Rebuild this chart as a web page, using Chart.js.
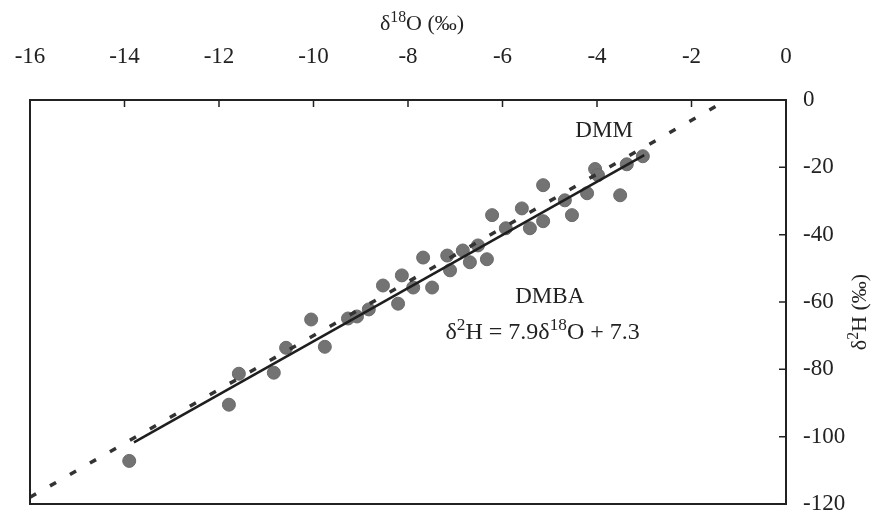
<!DOCTYPE html>
<html lang="en">
<head>
<meta charset="UTF-8">
<title>δ18O vs δ2H</title>
<script src="https://cdn.jsdelivr.net/npm/chart.js"></script>
<style>
  html, body { margin: 0; padding: 0; background: #fff; }
  #wrap { width: 880px; height: 517px; }
</style>
</head>
<body>
<div id="wrap"><canvas id="isoChart" width="880" height="517"></canvas></div>
<script>
// samples (δ18O, δ2H)
const o18 = [-13.9, -11.79, -11.58, -10.84, -10.58, -10.05, -9.76, -9.27, -9.08, -8.83,
             -8.53, -8.21, -8.13, -7.89, -7.68, -7.49, -7.17, -7.11, -6.84, -6.69,
             -6.52, -6.33, -6.22, -5.93, -5.59, -5.42, -5.14, -5.14, -4.68, -4.53,
             -4.21, -4.04, -3.98, -3.51, -3.37, -3.03];
const h2  = [-107.2, -90.5, -81.3, -81.0, -73.6, -65.2, -73.3, -64.9, -64.3, -62.2,
             -55.1, -60.5, -52.1, -55.7, -46.8, -55.7, -46.2, -50.6, -44.7, -48.2,
             -43.2, -47.3, -34.2, -38.1, -32.2, -38.1, -25.3, -36.0, -29.8, -34.2,
             -27.7, -20.5, -22.3, -28.3, -19.1, -16.7];

// DMM line (dotted) and DMBA regression (solid), end points
const dmmX = [-16, -1.25];
const dmmY = [-118, 0];
const dmbaX = [-13.8, -3.0];
const dmbaY = [-101.7, -16.4];

const xMin = -16, xMax = 0, xStep = 2;
const yMin = -120, yMax = 0, yStep = 20;

const serif = '"Liberation Serif", "DejaVu Serif", serif';
const ink = '#222';

function pairs(xs, ys) {
    return xs.map((x, i) => ({ x: x, y: ys[i] }));
}

// draw text with superscript runs, centred on (cx, cy)
function drawRuns(ctx, runs, cx, cy, size) {
    const supScale = 0.72;
    let total = 0;
    runs.forEach(r => {
        ctx.font = (r[1] ? size * supScale : size) + 'px ' + serif;
        total += ctx.measureText(r[0]).width;
    });
    let x = cx - total / 2;
    ctx.textAlign = 'left';
    ctx.textBaseline = 'middle';
    runs.forEach(r => {
        const s = r[1] ? size * supScale : size;
        ctx.font = s + 'px ' + serif;
        ctx.fillText(r[0], x, r[1] ? cy - size * 0.3 : cy);
        x += ctx.measureText(r[0]).width;
    });
}

const framePlugin = {
    id: 'frame',
    afterDraw(chart) {
        const ctx = chart.ctx;
        const a = chart.chartArea;
        const xs = chart.scales.x, ys = chart.scales.y;
        ctx.save();
        ctx.strokeStyle = ink;
        ctx.lineWidth = 2;
        ctx.strokeRect(a.left, a.top, a.right - a.left, a.bottom - a.top);

        // inward tick marks
        ctx.lineWidth = 1.5;
        ctx.beginPath();
        xs.ticks.forEach(t => {
            const p = xs.getPixelForValue(t.value);
            ctx.moveTo(p, a.top);
            ctx.lineTo(p, a.top + 7);
        });
        ys.ticks.forEach(t => {
            const p = ys.getPixelForValue(t.value);
            ctx.moveTo(a.right, p);
            ctx.lineTo(a.right - 7, p);
        });
        ctx.stroke();

        ctx.fillStyle = ink;
        // axis titles
        drawRuns(ctx, [['δ', 0], ['18', 1], ['O (‰)', 0]], 422, 24, 22);
        ctx.save();
        ctx.translate(860, 312);
        ctx.rotate(-Math.PI / 2);
        drawRuns(ctx, [['δ', 0], ['2', 1], ['H (‰)', 0]], 0, 0, 22);
        ctx.restore();

        // labels inside the plot
        drawRuns(ctx, [['DMM', 0]], xs.getPixelForValue(-3.85), ys.getPixelForValue(-9.3), 23);
        drawRuns(ctx, [['DMBA', 0]], xs.getPixelForValue(-5.0), ys.getPixelForValue(-58.5), 23);
        drawRuns(ctx, [['δ', 0], ['2', 1], ['H = 7.9δ', 0], ['18', 1], ['O + 7.3', 0]],
                 xs.getPixelForValue(-5.15), ys.getPixelForValue(-69), 24);
        ctx.restore();
    }
};

const ctx = document.getElementById('isoChart').getContext('2d');

new Chart(ctx, {
    type: 'scatter',
    data: {
        datasets: [
            {
                label: 'DMM',
                type: 'line',
                data: pairs(dmmX, dmmY),
                borderColor: '#333',
                borderWidth: 3.5,
                borderDash: [7, 16],
                borderCapStyle: 'butt',
                pointRadius: 0,
                fill: false,
                order: 0
            },
            {
                label: 'DMBA fit',
                type: 'line',
                data: pairs(dmbaX, dmbaY),
                borderColor: '#1e1e1e',
                borderWidth: 2.5,
                pointRadius: 0,
                fill: false,
                order: 0
            },
            {
                label: 'Samples',
                data: pairs(o18, h2),
                backgroundColor: '#737373',
                borderColor: '#6a6a6a',
                borderWidth: 1,
                pointRadius: 6.5,
                order: 1
            }
        ]
    },
    options: {
        responsive: false,
        devicePixelRatio: 1,
        animation: false,
        layout: { padding: { left: 30, right: 0, top: 0, bottom: 13 } },
        plugins: {
            legend: { display: false },
            tooltip: { enabled: false }
        },
        scales: {
            x: {
                type: 'linear',
                position: 'top',
                min: xMin,
                max: xMax,
                grid: { display: false },
                border: { display: false },
                ticks: {
                    stepSize: xStep,
                    padding: 21,
                    color: ink,
                    font: { family: serif, size: 23 }
                },
                afterFit(scale) {
                    scale.height = 100;
                    scale.paddingLeft = 0;
                    scale.paddingRight = 0;
                }
            },
            y: {
                type: 'linear',
                position: 'right',
                min: yMin,
                max: yMax,
                grid: { display: false },
                border: { display: false },
                ticks: {
                    stepSize: yStep,
                    padding: 9,
                    color: ink,
                    font: { family: serif, size: 23 }
                },
                afterFit(scale) {
                    scale.width = 94;
                    scale.paddingTop = 0;
                    scale.paddingBottom = 0;
                }
            }
        }
    },
    plugins: [framePlugin]
});
</script>
</body>
</html>
